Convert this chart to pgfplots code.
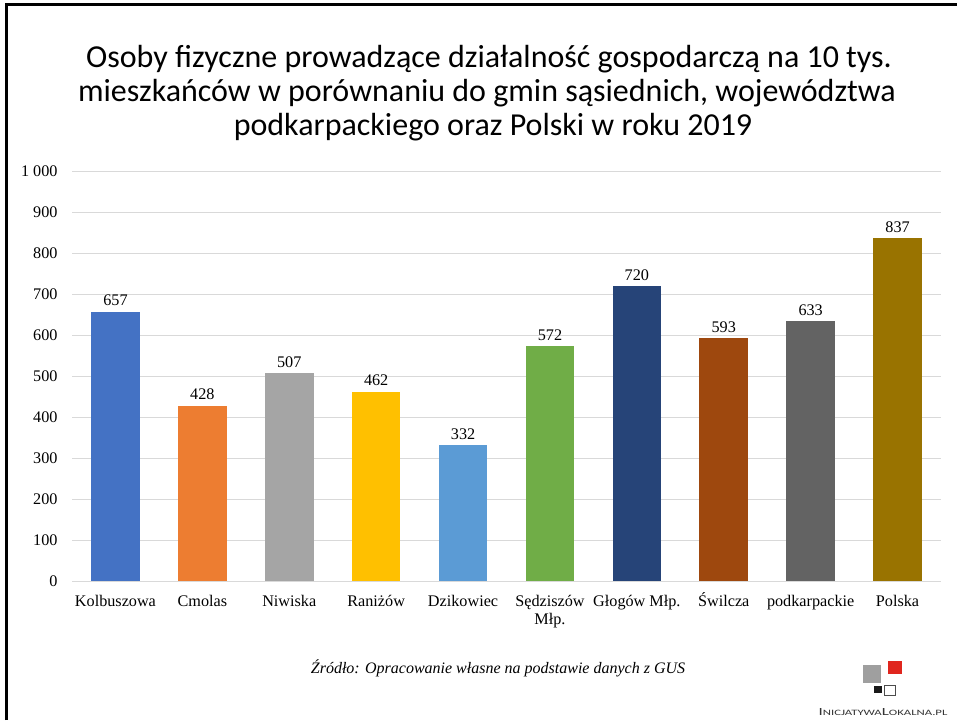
\documentclass[border=0pt]{standalone}
\usepackage{pgfplots}
\pgfplotsset{compat=1.18}
\usepackage{fontspec}
\setmainfont{Liberation Serif}
\newfontfamily\calibri{Carlito}
\definecolor{c1}{HTML}{4472C4}
\definecolor{c2}{HTML}{ED7D31}
\definecolor{c3}{HTML}{A5A5A5}
\definecolor{c4}{HTML}{FFC000}
\definecolor{c5}{HTML}{5B9BD5}
\definecolor{c6}{HTML}{70AD47}
\definecolor{c7}{HTML}{264478}
\definecolor{c8}{HTML}{9E480E}
\definecolor{c9}{HTML}{636363}
\definecolor{c10}{HTML}{997300}
\definecolor{gridc}{HTML}{D9D9D9}
\definecolor{logored}{HTML}{E0261E}
\begin{document}
\begin{tikzpicture}[x=1pt,y=1pt]
\path[fill=white] (0,0) rectangle (957,720);
\draw[line width=3pt,black] (6,0) -- (6,715) -- (957,715);
% title
\node[anchor=base,font=\calibri\fontsize{32}{34}\selectfont] at (489,652) {Osoby fizyczne prowadzące działalność gospodarczą na 10 tys.};
\node[anchor=base,font=\calibri\fontsize{32}{34}\selectfont] at (487,618) {mieszkańców w porównaniu do gmin sąsiednich, województwa};
\node[anchor=base,font=\calibri\fontsize{32}{34}\selectfont] at (493,584) {podkarpackiego oraz Polski w roku 2019};
\begin{axis}[
  at={(72pt,139pt)}, anchor=south west,
  scale only axis, width=869pt, height=410pt,
  xmin=-0.5, xmax=9.5, ymin=0, ymax=1000,
  axis line style={draw=none},
  ytick={0,100,...,1000},
  yticklabels={0,100,200,300,400,500,600,700,800,900,1 000},
  ymajorgrids, grid style={gridc, line width=0.9pt},
  major tick length=0pt,
  xtick={0,...,9},
  xticklabels={Kolbuszowa,Cmolas,Niwiska,Raniżów,Dzikowiec,{\begin{tabular}[t]{@{}c@{}}Sędziszów\\Młp.\end{tabular}},Głogów Młp.,Świlcza,podkarpackie,Polska},
  xticklabel style={anchor=base, font=\fontsize{16.2}{18}\selectfont, yshift=-25pt},
  yticklabel style={font=\fontsize{16.2}{17}\selectfont, xshift=-11pt},
  ybar, bar width=0.56, bar shift=0pt,
  nodes near coords,
  every node near coord/.append style={font=\fontsize{16.2}{17}\selectfont, black, yshift=2pt},
  /pgf/number format/assume math mode=true,
]
\addplot[fill=c1,draw=none] coordinates {(0,657)};
\addplot[fill=c2,draw=none] coordinates {(1,428)};
\addplot[fill=c3,draw=none] coordinates {(2,507)};
\addplot[fill=c4,draw=none] coordinates {(3,462)};
\addplot[fill=c5,draw=none] coordinates {(4,332)};
\addplot[fill=c6,draw=none] coordinates {(5,572)};
\addplot[fill=c7,draw=none] coordinates {(6,720)};
\addplot[fill=c8,draw=none] coordinates {(7,593)};
\addplot[fill=c9,draw=none] coordinates {(8,633)};
\addplot[fill=c10,draw=none] coordinates {(9,837)};
\end{axis}
\node[font=\itshape\fontsize{16}{18}\selectfont] at (498,52) {Źródło: Opracowanie własne na podstawie danych z GUS};
% logo
\fill[gray!75] (863,37) rectangle (881,55);
\fill[logored] (888,46) rectangle (902,59);
\fill[black!90] (874,27) rectangle (882,34);
\draw[black!70,line width=0.6pt] (884.5,24.5) rectangle (895.5,34.5);
\node[anchor=base,font=\calibri,text=black!80,xscale=1.55] at (883,5) {{\fontsize{10.9}{11}\selectfont I}{\fontsize{8.2}{11}\selectfont NICJATYWA}{\fontsize{10.9}{11}\selectfont L}{\fontsize{8.2}{11}\selectfont OKALNA.PL}};
\pgfresetboundingbox
\useasboundingbox (0,0) rectangle (957,720);
\end{tikzpicture}
\end{document}
